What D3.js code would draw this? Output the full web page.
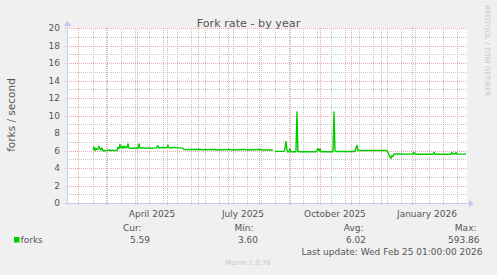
<!DOCTYPE html>
<html lang="en">

<head>
    <meta charset="UTF-8">
    <title>Fork rate - by year</title>
    <style>
        body {
            margin: 0;
            background: #f0f0f0;
        }

        svg {
            display: block;
            font-family: "DejaVu Sans", sans-serif;
        }
    </style>
</head>

<body>
    <svg></svg>
    <script src="https://cdn.jsdelivr.net/npm/d3@7.8.5/dist/d3.min.js"></script>
    <script>
        // data (daily samples, forks per second)
        const dates = [
            '2025-02-16', '2025-02-17', '2025-02-18', '2025-02-19', '2025-02-20', '2025-02-21', '2025-02-22',
            '2025-02-23', '2025-02-24', '2025-02-25', '2025-02-26', '2025-03-01', '2025-03-05', '2025-03-06',
            '2025-03-08', '2025-03-09', '2025-03-12', '2025-03-13', '2025-03-14', '2025-03-15', '2025-03-16',
            '2025-03-17', '2025-03-18', '2025-03-19', '2025-03-20', '2025-03-21', '2025-03-22', '2025-03-23',
            '2025-03-24', '2025-03-25', '2025-03-31', '2025-04-01', '2025-04-02', '2025-04-03', '2025-04-04',
            '2025-04-05', '2025-04-07', '2025-04-08', '2025-04-14', '2025-04-15', '2025-04-20', '2025-04-21',
            '2025-04-22', '2025-04-23', '2025-04-27', '2025-04-28', '2025-05-01', '2025-05-02', '2025-05-03',
            '2025-05-09', '2025-05-10', '2025-05-16', '2025-05-17', '2025-05-18', '2025-06-03', '2025-06-04',
            '2025-06-18', '2025-06-19', '2025-07-03', '2025-07-04', '2025-07-18', '2025-07-19', '2025-08-02',
            '2025-08-03', '2025-08-15', '2025-08-16', '2025-08-17', '2025-08-18', '2025-08-26', '2025-08-27',
            '2025-08-28', '2025-08-29', '2025-08-30', '2025-08-31', '2025-09-01', '2025-09-02', '2025-09-07',
            '2025-09-08', '2025-09-09', '2025-09-10', '2025-09-27', '2025-09-28', '2025-09-29', '2025-09-30',
            '2025-10-01', '2025-10-02', '2025-10-14', '2025-10-15', '2025-10-16', '2025-10-17', '2025-11-05',
            '2025-11-06', '2025-11-07', '2025-11-08', '2025-12-06', '2025-12-07', '2025-12-08', '2025-12-09',
            '2025-12-10', '2025-12-11', '2025-12-12', '2025-12-13', '2025-12-14', '2026-01-02', '2026-01-03',
            '2026-01-04', '2026-01-22', '2026-01-23', '2026-01-24', '2026-02-09', '2026-02-10', '2026-02-11',
            '2026-02-13', '2026-02-14', '2026-02-15', '2026-02-24'
        ]
        const forks = [
            6.1, 6.4, 6.0, 6.25, 6.1, 6.15, 6.5,
            6.2, 6.05, 6.3, 5.98, 5.98, 6.05, 5.98,
            6.05, 5.98, 6.0, 6.35, 6.2, 6.7, 6.3,
            6.45, 6.25, 6.5, 6.3, 6.45, 6.3, 6.75,
            6.3, 6.25, 6.25, 6.3, 6.2, 6.75, 6.3,
            6.25, 6.35, 6.25, 6.3, 6.25, 6.3, 6.4,
            6.55, 6.3, 6.35, 6.3, 6.35, 6.6, 6.3,
            6.35, 6.3, 6.3, 6.25, 6.1, 6.15, 6.08,
            6.12, 6.06, 6.12, 6.06, 6.12, 6.06, 6.12,
            6.06, 6.05, null, 5.95, 5.9, 5.9, 6.2,
            7.0, 6.0, 5.8, 5.9, 6.2, 5.85, 5.85,
            10.4, 5.9, 5.85, 5.85, 6.05, 6.2, 5.95,
            6.2, 5.85, 5.85, 10.4, 6.0, 5.88, 5.88,
            6.3, 6.6, 6.0, 6.0, 5.95, 5.8, 5.5,
            5.3, 5.1, 5.4, 5.3, 5.6, 5.58, 5.78,
            5.58, 5.58, 5.78, 5.58, 5.58, 5.78, 5.6,
            5.6, 5.76, 5.58, 5.59
        ]
        const yTicks = [0, 2, 4, 6, 8, 10, 12, 14, 16, 18, 20]
        const xLabels = ['2025-04-16', '2025-07-16', '2025-10-16', '2026-01-16']
        const legendHeads = ['Cur:', 'Min:', 'Avg:', 'Max:']
        const legendValues = ['5.59', '3.60', '6.02', '593.86']

        const W = 497, H = 275
        const plotL = 67, plotR = 467, plotT = 28, plotB = 203
        const parse = d3.utcParse('%Y-%m-%d')
        const textColor = '#555'

        const svg = d3.select('svg').attr('width', W).attr('height', H)

        const x = d3.scaleUtc()
            .domain([new Date(Date.UTC(2025, 0, 21, 1)), new Date(Date.UTC(2026, 1, 25, 1))])
            .range([plotL, plotR])
        const y = d3.scaleLinear().domain([0, 20]).range([plotB, plotT])

        const data = dates.map((d, i) => ({ t: parse(d), v: forks[i] }))

        // plot area
        svg.append('rect')
            .attr('x', plotL).attr('y', plotT)
            .attr('width', plotR - plotL).attr('height', plotB - plotT)
            .attr('fill', '#fff')

        const grid = svg.append('g').attr('shape-rendering', 'crispEdges')

        // minor grid: every 2 weeks and every 1 unit
        const minorDays = d3.utcDay.range(parse('2025-02-16'), x.domain()[1], 14)
        grid.selectAll('.vmin')
            .data(minorDays)
            .join('line')
            .attr('x1', d => Math.round(x(d)) + 0.5).attr('x2', d => Math.round(x(d)) + 0.5)
            .attr('y1', plotT).attr('y2', plotB)
            .attr('stroke', '#c4c4c4').attr('stroke-dasharray', '1,1')

        grid.selectAll('.hmin')
            .data(d3.range(1, 20, 2))
            .join('line')
            .attr('x1', plotL).attr('x2', plotR)
            .attr('y1', d => Math.round(y(d)) + 0.5).attr('y2', d => Math.round(y(d)) + 0.5)
            .attr('stroke', '#c4c4c4').attr('stroke-dasharray', '1,1')

        // major grid: months and even values
        const majorColor = '#eeaaaa'
        const months = d3.utcMonth.range(x.domain()[0], x.domain()[1])
        grid.selectAll('.vmaj')
            .data(months)
            .join('line')
            .attr('x1', d => Math.round(x(d)) + 0.5).attr('x2', d => Math.round(x(d)) + 0.5)
            .attr('y1', plotT).attr('y2', plotB + 3)
            .attr('stroke', majorColor).attr('stroke-dasharray', '1,1')

        grid.selectAll('.hmaj')
            .data(yTicks.filter(d => d > 0))
            .join('line')
            .attr('x1', plotL - 2).attr('x2', plotR)
            .attr('y1', d => Math.round(y(d)) + 0.5).attr('y2', d => Math.round(y(d)) + 0.5)
            .attr('stroke', majorColor).attr('stroke-dasharray', '1,1')

        // axes with arrows
        const axisColor = '#c8c8f0'
        svg.append('line')
            .attr('x1', plotL - 2).attr('x2', plotR + 2)
            .attr('y1', plotB + 0.5).attr('y2', plotB + 0.5)
            .attr('stroke', axisColor)
        svg.append('line')
            .attr('x1', plotL + 0.5).attr('x2', plotL + 0.5)
            .attr('y1', plotB + 2).attr('y2', plotT - 3)
            .attr('stroke', axisColor)
        svg.append('path')
            .attr('d', `M${plotR + 2},${plotB - 3.5}L${plotR + 7},${plotB + 0.5}L${plotR + 2},${plotB + 4.5}Z`)
            .attr('fill', axisColor)
        svg.append('path')
            .attr('d', `M${plotL - 3.5},${plotT - 2}L${plotL + 0.5},${plotT - 7}L${plotL + 4.5},${plotT - 2}Z`)
            .attr('fill', axisColor)

        // data line
        const line = d3.line()
            .defined(d => d.v != null)
            .x(d => x(d.t))
            .y(d => y(d.v))
        svg.append('path')
            .datum(data)
            .attr('d', line)
            .attr('fill', 'none')
            .attr('stroke', '#00cc00')
            .attr('stroke-width', 1.4)
            .attr('stroke-linejoin', 'round')

        // y tick labels
        svg.append('g')
            .selectAll('text')
            .data(yTicks)
            .join('text')
            .attr('x', 60)
            .attr('y', d => y(d) + 3.3)
            .attr('text-anchor', 'end')
            .attr('font-size', 9)
            .attr('fill', textColor)
            .text(d => d)

        // x labels (centred on the month)
        const fmt = d3.utcFormat('%B %Y')
        svg.append('g')
            .selectAll('text')
            .data(xLabels.map(parse))
            .join('text')
            .attr('x', d => x(d))
            .attr('y', 216.5)
            .attr('text-anchor', 'middle')
            .attr('font-size', 9)
            .attr('fill', textColor)
            .text(d => fmt(d))

        // title and side texts
        svg.append('text')
            .attr('x', 248.5).attr('y', 26.5)
            .attr('text-anchor', 'middle')
            .attr('font-size', 11.2)
            .attr('fill', textColor)
            .text('Fork rate - by year')

        svg.append('text')
            .attr('transform', 'translate(14.5,115) rotate(-90)')
            .attr('text-anchor', 'middle')
            .attr('font-size', 10.5)
            .attr('fill', textColor)
            .text('forks / second')

        svg.append('text')
            .attr('transform', 'translate(484.5,5) rotate(90)')
            .attr('font-size', 7.1)
            .attr('fill', '#c8c8c8')
            .text('RRDTOOL / TOBI OETIKER')

        // legend
        const headX = [141.5, 253.5, 363.5, 476.5]
        const valX = [150, 258, 366, 479.5]
        const legend = svg.append('g').attr('font-size', 9).attr('fill', textColor)
        legend.selectAll('.head')
            .data(legendHeads)
            .join('text')
            .attr('class', 'head')
            .attr('x', (d, i) => headX[i]).attr('y', 231)
            .attr('text-anchor', 'end')
            .text(d => d)
        legend.selectAll('.val')
            .data(legendValues)
            .join('text')
            .attr('class', 'val')
            .attr('x', (d, i) => valX[i]).attr('y', 243)
            .attr('text-anchor', 'end')
            .text(d => d)

        svg.append('rect')
            .attr('x', 14).attr('y', 237)
            .attr('width', 5.5).attr('height', 5.5)
            .attr('fill', '#00cc00')
        legend.append('text')
            .attr('x', 20.5).attr('y', 243)
            .text('forks')

        legend.append('text')
            .attr('x', 482.5).attr('y', 255)
            .attr('text-anchor', 'end')
            .text('Last update: Wed Feb 25 01:00:00 2026')

        svg.append('text')
            .attr('x', 248).attr('y', 265)
            .attr('text-anchor', 'middle')
            .attr('font-size', 7)
            .attr('fill', '#c8c8c8')
            .text('Munin 2.0.76')
    </script>
</body>

</html>
